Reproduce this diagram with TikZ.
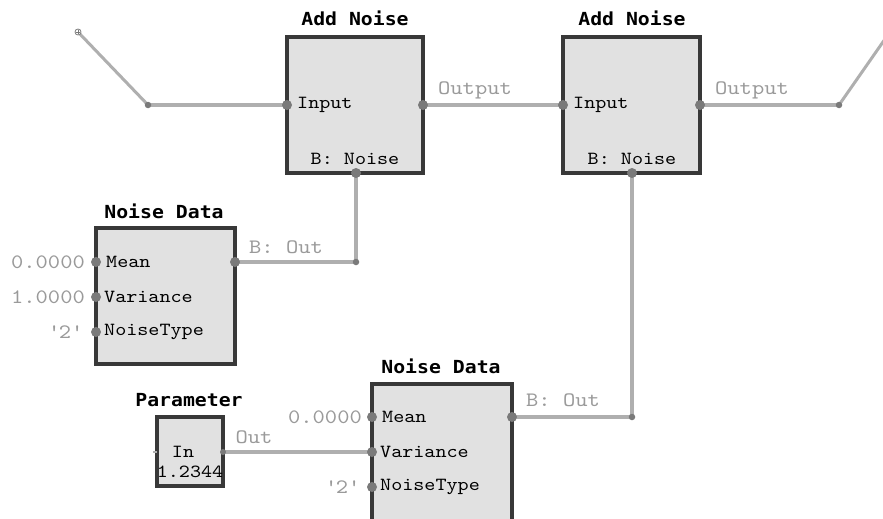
\documentclass[tikz,border=0pt]{standalone}
\usepackage{fontspec}
\newfontfamily\cour{lmmono10-regular.otf}[FakeStretch=1.14]
\newfontfamily\titlefont[FakeStretch=1.1]{DejaVu Sans Mono}
\definecolor{boxfill}{HTML}{E1E1E1}
\definecolor{boxline}{HTML}{383838}
\definecolor{wire}{HTML}{AFAFAF}
\definecolor{portc}{HTML}{7A7A7A}
\definecolor{lbl}{HTML}{9A9A9A}
\begin{document}
\begin{tikzpicture}[x=1pt,y=-1pt,
 block/.style={draw=boxline, fill=boxfill, line width=3.5pt, rectangle, inner sep=0pt},
 title/.style={font=\titlefont\bfseries\fontsize{18}{18}\selectfont, inner sep=0pt},
 plabel/.style={font=\cour\fontsize{18.5}{18.5}\selectfont, inner sep=0pt, anchor=west},
 clabel/.style={font=\cour\fontsize{18.5}{18.5}\selectfont, inner sep=0pt},
 vlabel/.style={font=\cour\fontsize{20.5}{20.5}\selectfont, text=lbl, inner sep=0pt},
 wireline/.style={draw=wire, line width=4pt},
 port/.style={circle, fill=portc, inner sep=0pt, minimum size=10pt},
 joint/.style={circle, fill=portc, inner sep=0pt, minimum size=6.5pt}]
\useasboundingbox (0,0) rectangle (883,519);
% blocks
\node[block, minimum width=136pt, minimum height=136pt] (an1) at (355,105) {};
\node[block, minimum width=137pt, minimum height=136pt] (an2) at (631.5,105) {};
\node[block, minimum width=139pt, minimum height=136pt] (nd1) at (165.5,296) {};
\node[block, minimum width=140pt, minimum height=140pt] (nd2) at (442,454) {};
\node[block, minimum width=66pt, minimum height=69pt] (par) at (190,451.5) {};
% titles
\node[title] (t1) at (355,18) {Add Noise};
\node[title] (t2) at (632,18) {Add Noise};
\node[title] (t3) at (164,211) {Noise Data};
\node[title] (t4) at (441,366) {Noise Data};
\node[title] (t5) at (189,400) {Parameter};
% ports
\coordinate (an1in) at (287,105);
\coordinate (an1out) at (423,105);
\coordinate (an1nz) at (356,173);
\coordinate (an2in) at (563,105);
\coordinate (an2out) at (700,105);
\coordinate (an2nz) at (632,173);
\coordinate (nd1mean) at (96,262);
\coordinate (nd1var) at (96,297);
\coordinate (nd1nt) at (96,332);
\coordinate (nd1out) at (235,262);
\coordinate (nd2mean) at (372,417);
\coordinate (nd2var) at (372,452);
\coordinate (nd2nt) at (372,487);
\coordinate (nd2out) at (512,417);
\coordinate (parout) at (223,452);
% joints
\coordinate (start) at (78,32);
\coordinate (j1) at (148,105);
\coordinate (j2) at (839,105);
\coordinate (endr) at (892,29);
\coordinate (j3) at (356,262);
\coordinate (j4) at (632,417);
% wires
\draw[wireline, line width=3pt] (start) -- (j1);
\draw[wireline] (j1) -- (an1in);
\draw[wireline] (an1out) -- (an2in);
\draw[wireline] (an2out) -- (j2);
\draw[wireline, line width=3pt] (j2) -- (endr);
\draw[wireline] (nd1out) -- (j3) -- (an1nz);
\draw[wireline] (nd2out) -- (j4) -- (an2nz);
\draw[wireline] (parout) -- (nd2var);
\draw[wire, line width=1.5pt] (153,452) -- (157,452);
\draw[portc, line width=0.8pt, fill=white] (start) circle (3pt);
\draw[portc, line width=0.5pt] (76,32) -- (80,32) (78,30) -- (78,34);
% port dots
\foreach \p in {an1in,an1out,an1nz,an2in,an2out,an2nz,nd1mean,nd1var,nd1nt,nd1out,nd2mean,nd2var,nd2nt,nd2out}
  \node[port] at (\p) {};
\foreach \p in {j1,j2,j3,j4}
  \node[joint] at (\p) {};
\node[port, minimum size=6pt] at (parout) {};
% port labels
\node[plabel] (l1) at (297,105) {Input};
\node[clabel] (l2) at (355,159) {B: Noise};
\node[plabel] (l3) at (573,105) {Input};
\node[clabel] (l4) at (632,159) {B: Noise};
\node[plabel] (l5) at (106,262) {Mean};
\node[plabel] (l6) at (104,297) {Variance};
\node[plabel] (l7) at (104,332) {NoiseType};
\node[plabel] (l8) at (382,417) {Mean};
\node[plabel] (l9) at (380,452) {Variance};
\node[plabel] (l10) at (380,487) {NoiseType};
\node[clabel] (l11) at (183,452) {In};
\node[clabel] (l12) at (190,472) {1.2344};
% value labels
\node[vlabel] (v1) at (475,90) {Output};
\node[vlabel] (v2) at (752,90) {Output};
\node[vlabel] (v3) at (286,247) {B: Out};
\node[vlabel] (v4) at (563,400) {B: Out};
\node[vlabel] (v5) at (254,437) {Out};
\node[vlabel, anchor=east] (v6) at (85,262) {0.0000};
\node[vlabel, anchor=east] (v7) at (85,297) {1.0000};
\node[vlabel, anchor=east] (v8) at (82,332) {\textquotesingle 2\textquotesingle};
\node[vlabel, anchor=east] (v9) at (362,417) {0.0000};
\node[vlabel, anchor=east] (v10) at (359,487) {\textquotesingle 2\textquotesingle};
\end{tikzpicture}
\end{document}
